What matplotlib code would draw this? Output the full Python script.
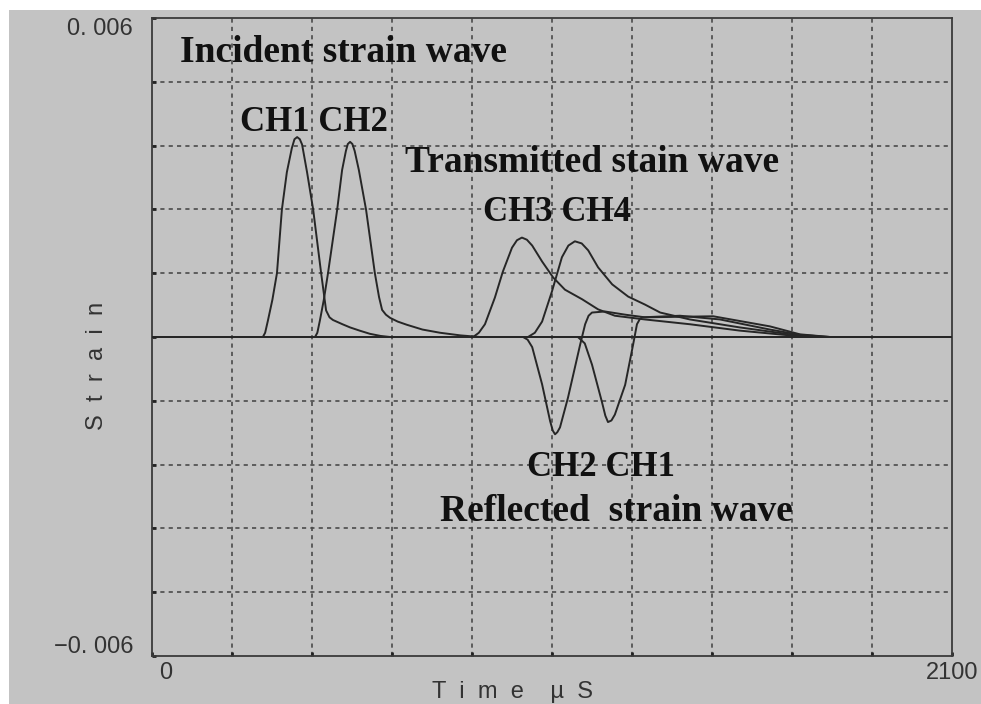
import matplotlib
matplotlib.use('Agg')
import matplotlib.pyplot as plt
from matplotlib.patches import Rectangle
import numpy as np

# time axis in microseconds, strain unitless
# incident strain waves
ch1_inc_t = [0, 291, 297, 304, 316, 328, 341, 354, 367, 374, 381, 388, 394, 407, 423, 444, 457, 466, 475,
             500, 520, 545, 572, 600, 625, 2100]
ch1_inc_s = [0, 0, 0.00008, 0.0003, 0.0007, 0.0012, 0.0024, 0.0031, 0.00355, 0.00372, 0.00376, 0.00372,
             0.00362, 0.0031, 0.0024, 0.0012, 0.0005, 0.00037, 0.00032, 0.00024, 0.00018, 0.00012,
             0.00006, 0.00002, 0, 0]
ch2_inc_t = [0, 428, 434, 441, 451, 462, 486, 499, 509, 514, 520, 526, 532, 543, 562, 585, 596, 604, 614,
             625, 645, 669, 710, 756, 810, 861, 2100]
ch2_inc_s = [0, 0, 0.00008, 0.00032, 0.0007, 0.0012, 0.00239, 0.00314, 0.0035, 0.00363, 0.00367, 0.00363,
             0.0035, 0.00314, 0.00239, 0.0012, 0.00075, 0.00051, 0.00042, 0.00036, 0.00029, 0.00023,
             0.00014, 0.00008, 0.00003, 0, 0]

# transmitted strain waves
ch3_tr_t = [0, 843, 858, 874, 900, 921, 945, 958, 971, 984, 998, 1024, 1053, 1084, 1129, 1171, 1215, 1294,
            1412, 1543, 1675, 1753, 2100]
ch3_tr_s = [0, 0, 0.00008, 0.00024, 0.00074, 0.00123, 0.00168, 0.00182, 0.00187, 0.00183, 0.00172,
            0.00142, 0.00112, 0.00089, 0.00071, 0.00052, 0.0004, 0.00033, 0.00024, 0.00012, 0.00003, 0, 0]
ch4_tr_t = [0, 987, 1005, 1024, 1050, 1076, 1093, 1110, 1128, 1145, 1171, 1208, 1250, 1294, 1334, 1412,
            1543, 1675, 1753, 2100]
ch4_tr_s = [0, 0, 0.00008, 0.00029, 0.00086, 0.0015, 0.00172, 0.0018, 0.00176, 0.00163, 0.00131, 0.00099,
            0.00076, 0.00061, 0.00046, 0.00033, 0.00018, 0.00005, 0, 0]

# reflected strain waves
ch2_ref_t = [0, 974, 986, 998, 1024, 1045, 1052, 1058, 1064, 1071, 1092, 1124, 1137, 1146, 1155, 1189,
             1242, 1294, 1473, 1622, 1701, 1780, 2100]
ch2_ref_s = [0, 0, -0.00005, -0.00019, -0.00089, -0.00158, -0.00176, -0.00183, -0.00179, -0.0017,
             -0.00114, -0.00014, 0.00024, 0.0004, 0.00046, 0.00048, 0.00042, 0.00037, 0.00039, 0.0002,
             0.00005, 0, 0]
ch1_ref_t = [0, 1118, 1136, 1155, 1181, 1190, 1197, 1206, 1215, 1242, 1263, 1273, 1280, 1286, 1386, 1491,
             1622, 1701, 1780, 2100]
ch1_ref_s = [0, 0, -0.00012, -0.00052, -0.00122, -0.00148, -0.0016, -0.00157, -0.00146, -0.0009,
             -0.00014, 0.00024, 0.00033, 0.00037, 0.0004, 0.00033, 0.00014, 0.00004, 0, 0]

xgrid = np.arange(0, 2101, 210)
ygrid = np.linspace(-0.006, 0.006, 11)

bg = '#c3c3c3'
fig = plt.figure(figsize=(9.81, 7.04), dpi=100, facecolor='white')
fig.patches.append(Rectangle((9 / 981, 0), 1, (704 - 10) / 704, transform=fig.transFigure,
                             facecolor=bg, edgecolor='none', zorder=-10))
ax = fig.add_axes([152 / 981, 48 / 704, 800 / 981, 638 / 704])
ax.set_zorder(1)
ax.set_facecolor(bg)
ax.set_xlim(0, 2100)
ax.set_ylim(-0.006, 0.006)

# dotted grid
for gx in xgrid[1:-1]:
    ax.axvline(gx, color='#4a4a4a', lw=1.2, ls=(0, (2.5, 2.5)), zorder=1)
for gy in ygrid[1:-1]:
    ax.axhline(gy, color='#4a4a4a', lw=1.2, ls=(0, (2.5, 2.5)), zorder=1)

for sp in ax.spines.values():
    sp.set_color('#3a3a3a')
    sp.set_linewidth(1.3)

ax.set_xticks(xgrid)
ax.set_yticks(ygrid)
ax.tick_params(direction='in', length=3, width=2, color='#222222', labelbottom=False, labelleft=False)

# curves
lc = '#262626'
for t, s in [(ch1_inc_t, ch1_inc_s), (ch2_inc_t, ch2_inc_s), (ch3_tr_t, ch3_tr_s),
             (ch4_tr_t, ch4_tr_s), (ch2_ref_t, ch2_ref_s), (ch1_ref_t, ch1_ref_s)]:
    ax.plot(t, s, color=lc, lw=1.4, zorder=3, solid_joinstyle='round')

# annotations
ann = dict(family='Liberation Serif', fontweight='bold', color='#111111', va='center', ha='left')
ax.text(73, 0.00536, 'Incident strain wave', fontsize=27, **ann)
ax.text(231, 0.00404, 'CH1 CH2', fontsize=25, **ann)
ax.text(664, 0.00329, 'Transmitted stain wave', fontsize=27, **ann)
ax.text(869, 0.00235, 'CH3 CH4', fontsize=25, **ann)
ax.text(984, -0.00245, 'CH2 CH1', fontsize=25, **ann)
ax.text(756, -0.00329, 'Reflected  strain wave', fontsize=27, **ann)

# axis labels in the instrument style
lab = dict(family='Liberation Sans', fontsize=17, color='#333333')
fig.text(133 / 981, 1 - 29 / 704, '0. 006', ha='right', va='center', **lab)
fig.text(133 / 981, 1 - 647 / 704, '\u22120. 006', ha='right', va='center', **lab)
fig.text(166 / 981, 1 - 673 / 704, '0', ha='center', va='center', **lab)
fig.text(952 / 981, 1 - 673 / 704, '2100', ha='center', va='center', **lab)
fig.text(97 / 981, 1 - 366 / 704, 'S  t  r  a  i  n', ha='center', va='center', rotation=90, **lab)
fig.text(512 / 981, 1 - 692 / 704, 'T  i  m  e    \u00b5  S', ha='center', va='center', **lab)

fig.savefig('out.png', dpi=100, facecolor='white')
